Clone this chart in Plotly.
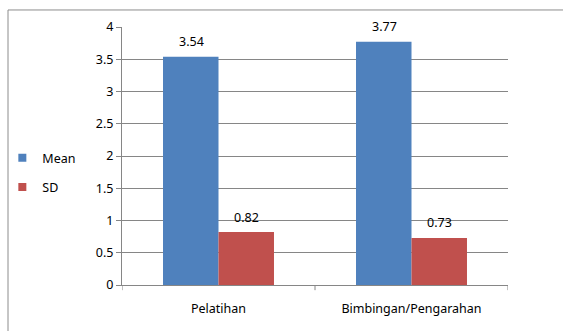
import plotly.graph_objects as go

categories = ["Pelatihan", "Bimbingan/Pengarahan"]
mean_values = [3.54, 3.77]
sd_values = [0.82, 0.73]
series_names = ["Mean", "SD"]
series_colors = ["#4f81bd", "#c0504d"]
y_ticks = [0, 0.5, 1, 1.5, 2, 2.5, 3, 3.5, 4]
y_tick_labels = ["0", "0.5", "1", "1.5", "2", "2.5", "3", "3.5", "4"]

FONT = "Noto Sans"
FSIZE = 12.5

fig = go.Figure()
for name, vals, color in zip(series_names, [mean_values, sd_values], series_colors):
    fig.add_trace(go.Bar(
        name=name, x=categories, y=vals, legendgroup=name, showlegend=False,
        marker=dict(color=color, line=dict(width=0)),
    ))
    # small square legend key for the series
    fig.add_trace(go.Scatter(
        name=name, x=[None], y=[None], mode="markers", legendgroup=name,
        marker=dict(symbol="square", size=8, color=color), showlegend=True,
    ))

# value labels above each bar
annotations = []
for i, vals in enumerate([mean_values, sd_values]):
    offset = -0.5 if i == 0 else 0.5
    for j, v in enumerate(vals):
        annotations.append(dict(
            x=j, xref="x", y=v, yref="y", text=f"{v:.2f}",
            showarrow=False, yshift=15, xshift=offset * 55,
            font=dict(family=FONT, size=FSIZE, color="#000000"),
        ))

fig.update_layout(
    width=563, height=331,
    margin=dict(l=122, r=55, t=27, b=46, autoexpand=False),
    paper_bgcolor="white", plot_bgcolor="white",
    barmode="group", bargap=0.425, bargroupgap=0,
    font=dict(family=FONT, size=FSIZE, color="#000000"),
    showlegend=True,
    legend=dict(
        x=-0.31, y=0.436, xanchor="left", yanchor="middle",
        font=dict(family=FONT, size=FSIZE, color="#000000"),
        itemwidth=30, tracegroupgap=10,
        bgcolor="rgba(0,0,0,0)",
    ),
    annotations=annotations,
    shapes=[dict(
        type="rect", xref="paper", yref="paper",
        x0=-0.2953, x1=1.3, y0=-0.2, y1=1.066,
        line=dict(color="#8c8c8c", width=1), fillcolor="rgba(0,0,0,0)", layer="below",
    )],
    xaxis=dict(
        type="category", range=[-0.5, 1.5],
        showline=True, linecolor="#868686", linewidth=1,
        showgrid=False, ticks="", tickfont=dict(family=FONT, size=FSIZE),
        ticklabelstandoff=12, zeroline=False,
    ),
    yaxis=dict(
        range=[0, 4], tickvals=y_ticks, ticktext=y_tick_labels,
        showline=True, linecolor="#868686", linewidth=1,
        showgrid=True, gridcolor="#868686", gridwidth=1,
        ticks="outside", ticklen=5, tickcolor="#868686",
        tickfont=dict(family=FONT, size=FSIZE), zeroline=False,
    ),
)

# category boundary tick marks below the x axis
for xb in [-0.5, 0.5, 1.5]:
    fig.add_shape(type="line", xref="x", yref="paper", x0=xb, x1=xb, y0=0, y1=-0.02,
                  line=dict(color="#868686", width=1))

fig.write_html("out.html")
